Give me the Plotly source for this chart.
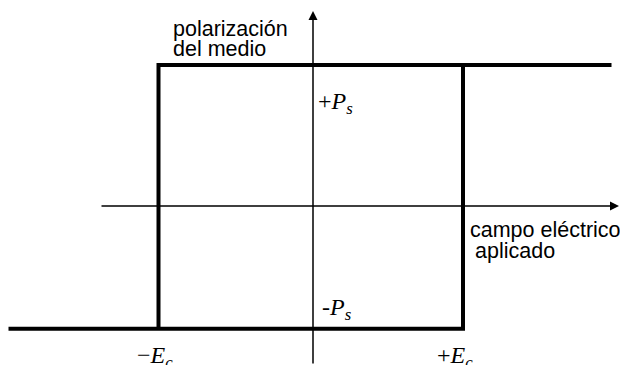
import plotly.graph_objects as go

# Hysteresis loop values (field in units of E_c, polarization in units of P_s)
E_c_pos = 1.0
E_c_neg = -1.03
P_s_pos = 1.0
P_s_neg = -0.87
E_min = -2.03
E_max = 1.99

# upper branch and lower branch
upper_x = [E_max, E_c_neg, E_c_neg]
upper_y = [P_s_pos, P_s_pos, P_s_neg]
lower_x = [E_min, E_c_pos, E_c_pos]
lower_y = [P_s_neg, P_s_neg, P_s_pos]

# pixel helpers for layout placement (origin at the axes crossing)
OX, OY, SX, SY = 313, 206, 150.0, 141.0
def X(px):
    return (px - OX) / SX
def Y(py):
    return (OY - py) / SY

fig = go.Figure()
fig.add_trace(go.Scatter(x=upper_x + [None] + lower_x,
                         y=upper_y + [None] + lower_y,
                         mode="lines", line=dict(color="black", width=4),
                         hoverinfo="skip", showlegend=False))

W, H = 620, 365
fig.update_layout(
    width=W, height=H, margin=dict(l=0, r=0, t=0, b=0),
    paper_bgcolor="white", plot_bgcolor="white",
    xaxis=dict(range=[X(0), X(W)], visible=False, fixedrange=True),
    yaxis=dict(range=[Y(H), Y(0)], visible=False, fixedrange=True),
    showlegend=False,
)

# axes with arrows
fig.add_annotation(x=X(619), y=0, ax=X(100), ay=0, xref="x", yref="y",
                   axref="x", ayref="y", showarrow=True, arrowhead=2,
                   arrowsize=1.2, arrowwidth=1.5, arrowcolor="black", text="")
fig.add_annotation(x=0, y=Y(11), ax=0, ay=Y(365), xref="x", yref="y",
                   axref="x", ayref="y", showarrow=True, arrowhead=2,
                   arrowsize=1.2, arrowwidth=1.5, arrowcolor="black", text="")

sans = dict(family="Liberation Sans, Arial, sans-serif", size=21.5, color="black")
serif = dict(family="Liberation Serif, Times New Roman, serif", size=24, color="black")

def label(px, py, text, font):
    fig.add_annotation(x=X(px), y=Y(py), xref="x", yref="y", text=text,
                       showarrow=False, xanchor="left", yanchor="middle",
                       font=font, borderpad=0)

label(172, 29, "polarización", sans)
label(172, 49, "del medio", sans)
label(469, 230, "campo eléctrico", sans)
label(474, 251, "aplicado", sans)
label(317, 103, "+<i>P</i><sub><i>s</i></sub>", serif)
label(321, 309, "-<i>P</i><sub><i>s</i></sub>", serif)
label(136, 357, "\u2212<i>E</i><sub><i>c</i></sub>", serif)
label(436, 357, "+<i>E</i><sub><i>c</i></sub>", serif)

fig.write_html("out.html", config={"displayModeBar": False},
               post_script="document.body.style.margin='0px';")
